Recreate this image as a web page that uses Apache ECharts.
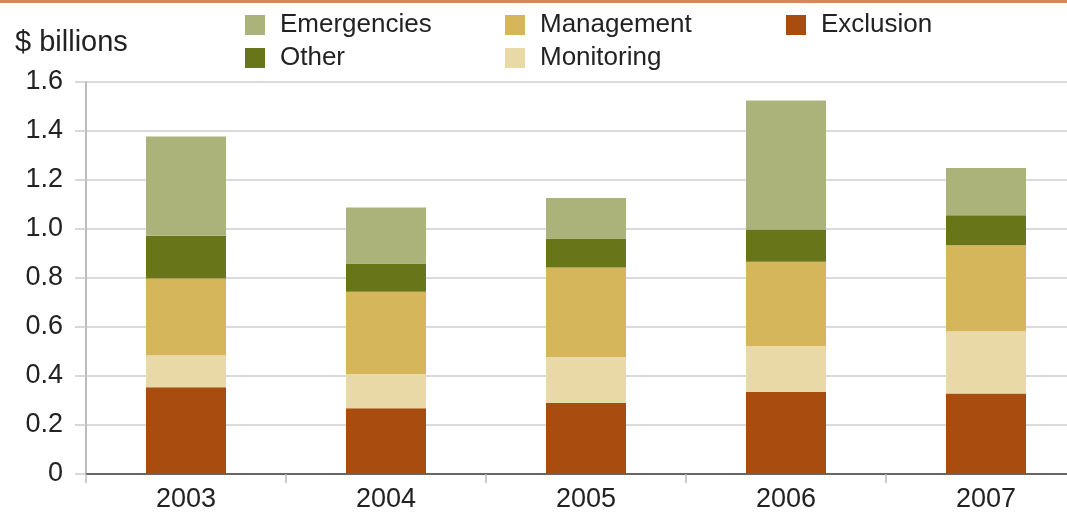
<!DOCTYPE html>
<html>
<head>
<meta charset="utf-8">
<script src="https://cdn.jsdelivr.net/npm/echarts@6/dist/echarts.min.js"></script>
<style>
  html, body { margin: 0; padding: 0; background: #fff; }
  #chart { width: 1067px; height: 516px; }
</style>
</head>
<body>
<div id="chart"></div>
<script>
// years on the x axis
const years = ['2003', '2004', '2005', '2006', '2007']

// $ billions (stacked bottom to top)
const exclusion = [0.354, 0.268, 0.291, 0.336, 0.329]
const monitoring = [0.131, 0.140, 0.187, 0.186, 0.254]
const management = [0.313, 0.336, 0.365, 0.344, 0.351]
const other = [0.174, 0.115, 0.118, 0.132, 0.122]
const emergencies = [0.406, 0.229, 0.166, 0.527, 0.193]

const colors = {
  Exclusion: '#a94c10',
  Monitoring: '#e8d9a6',
  Management: '#d5b65a',
  Other: '#687619',
  Emergencies: '#abb37a'
}

const font = 'Liberation Sans, Arial, sans-serif'
const textColor = '#222'

function bar(name, data) {
  return {
    name,
    type: 'bar',
    stack: 'total',
    data,
    barWidth: '40%',
    itemStyle: { color: colors[name] },
    emphasis: { disabled: true }
  }
}

function legendBlock(left, names) {
  return {
    orient: 'vertical',
    left,
    top: 7,
    icon: 'rect',
    itemWidth: 20,
    itemHeight: 20,
    itemGap: 7,
    data: names,
    selectedMode: false,
    textStyle: { fontFamily: font, fontSize: 26, lineHeight: 22, color: textColor, padding: [0, 0, 0, 10] }
  }
}

const chart = echarts.init(document.getElementById('chart'))

chart.setOption({
  animation: false,
  backgroundColor: '#fff',
  graphic: [
    {
      type: 'rect',
      left: 0,
      top: 0,
      shape: { width: 1067, height: 3 },
      style: { fill: '#d08a5a' }
    },
    {
      type: 'text',
      left: 15,
      top: 28,
      style: { text: '$ billions', font: '29px ' + font, fill: textColor }
    }
  ],
  legend: [
    legendBlock(240, ['Emergencies', 'Other']),
    legendBlock(500, ['Management', 'Monitoring']),
    legendBlock(781, ['Exclusion'])
  ],
  grid: { left: 86, width: 1000, top: 82, bottom: 42, outerBoundsMode: 'none' },
  xAxis: {
    type: 'category',
    data: years,
    axisLine: { lineStyle: { color: '#666', width: 2 } },
    axisTick: { show: true, length: 9, lineStyle: { color: '#bbb', width: 1.5 } },
    axisLabel: { fontFamily: font, fontSize: 27, color: textColor, margin: 12 }
  },
  yAxis: {
    type: 'value',
    min: 0,
    max: 1.6,
    interval: 0.2,
    axisLine: { show: true, lineStyle: { color: '#bbb', width: 2 } },
    axisTick: { show: true, length: 11, lineStyle: { color: '#ccc', width: 1.5 } },
    splitLine: { lineStyle: { color: '#cfcfcf', width: 1.5 } },
    axisLabel: {
      fontFamily: font,
      fontSize: 27,
      color: textColor,
      margin: 23,
      formatter: (v) => (v === 0 ? '0' : v.toFixed(1))
    }
  },
  series: [
    bar('Exclusion', exclusion),
    bar('Monitoring', monitoring),
    bar('Management', management),
    bar('Other', other),
    bar('Emergencies', emergencies)
  ]
})
</script>
</body>
</html>
